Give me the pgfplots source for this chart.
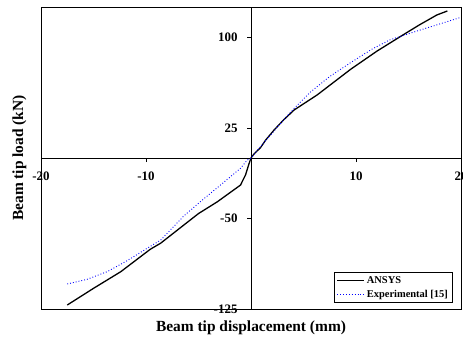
\documentclass[border=0pt]{standalone}
\usepackage{pgfplots}
\pgfplotsset{compat=1.18}
\usepackage{fontspec}
\setmainfont{Liberation Serif}
\begin{document}
\begin{tikzpicture}
\begin{axis}[
  name=ax,
  scale only axis,
  width=420bp, height=302bp,
  xmin=-20, xmax=20, ymin=-125, ymax=125,
  axis lines=middle,
  axis line style={black, line width=0.6pt, -},
  xtick={-20,-10,0,10,20},
  ytick={-125,-50,25,100},
  tick align=outside,
  major tick length=4bp,
  tick style={black, line width=0.5pt},
  /pgf/number format/assume math mode=true,
  ticklabel style={font=\fontsize{13}{15}\selectfont\bfseries},
  xticklabel style={yshift=-6bp},
  yticklabel style={xshift=-6bp},
  xlabel={Beam tip displacement (mm)},
  ylabel={Beam tip load (kN)},
  xlabel style={at={(axis description cs:0.5,0)}, anchor=north, yshift=-8bp, font=\fontsize{15.5}{17}\selectfont\bfseries},
  ylabel style={at={(axis description cs:0,0.5)}, anchor=south, rotate=90, yshift=11bp, font=\fontsize{15.5}{17}\selectfont\bfseries},
  legend style={at={(rel axis cs:0.979,0.02)}, anchor=south east, draw=black, line width=0.6pt, font=\fontsize{10.5}{12}\selectfont\bfseries, inner sep=2pt, row sep=1pt, cells={anchor=west}},
  legend image code/.code={\draw[#1] (0cm,0cm) -- (0.95cm,0cm);},
  clip=false,
]
\draw[black, line width=0.8pt] (rel axis cs:0,0) rectangle (rel axis cs:1,1);
\addplot[black, line width=1.3pt] coordinates {
(-17.5,-121.7) (-15.0,-107.9) (-12.4,-94.1) (-9.6,-75.6) (-8.6,-70.5) (-6.4,-55.5) (-5.0,-46) (-3.2,-36.2) (-1.0,-22.4) (-0.52,-14) (-0.2,-5) (0,0) (0.3,3.5) (0.9,8.5) (1.4,14.9) (2.2,23.2) (3.1,31.5) (4.1,39.7) (6.3,52.2) (9.5,73.5) (12,88.5) (14.2,100.4) (16,110) (17.7,118.4) (18.7,121.7)
};
\addlegendentry{ANSYS}
\addplot[blue, dotted, line width=0.9pt] coordinates {
(-17.5,-104.3) (-15.6,-100.4) (-13.7,-94.1) (-11.8,-85) (-9.9,-74.8) (-8.6,-67.9) (-6.4,-48) (-4.8,-36) (-3.2,-24.5) (-1.0,-8.5) (-0.36,-1.7) (0,0) (0.9,9.4) (1.86,19) (3.1,31.5) (4.1,41.1) (5.7,54.9) (7.5,67.5) (9.5,79) (11.5,90) (13.2,97.7) (15.8,105.1) (17.8,110.5) (19.9,116.2)
};
\addlegendentry{Experimental [15]}
\end{axis}
\pgfresetboundingbox
\path ([xshift=-41bp,yshift=-33bp]ax.south west) rectangle ([xshift=2bp,yshift=7bp]ax.north east);
\end{tikzpicture}
\end{document}
